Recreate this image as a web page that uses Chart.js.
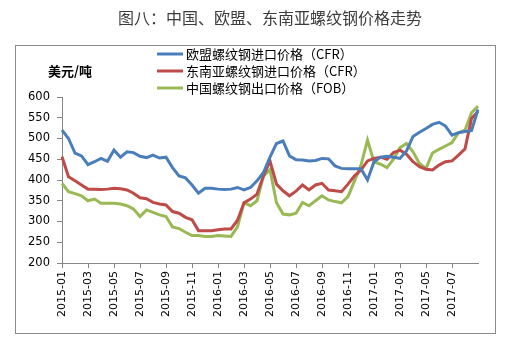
<!DOCTYPE html>
<html>
<head>
<meta charset="utf-8">
<script src="https://cdn.jsdelivr.net/npm/chart.js@4/dist/chart.umd.min.js"></script>
<style>
  body { margin: 0; background: #fff; }
</style>
</head>
<body>
<canvas id="myChart" width="509" height="343"></canvas>
<script>
// months on the axis, two readings per month
const months = ['2015-01','2015-02','2015-03','2015-04','2015-05','2015-06','2015-07','2015-08','2015-09','2015-10','2015-11','2015-12',
  '2016-01','2016-02','2016-03','2016-04','2016-05','2016-06','2016-07','2016-08','2016-09','2016-10','2016-11','2016-12',
  '2017-01','2017-02','2017-03','2017-04','2017-05','2017-06','2017-07','2017-08','2017-09'];

const euPrice = [520,500,465,458,437,444,452,445,472,455,468,466,457,454,460,453,
  455,430,410,405,388,368,380,380,378,377,378,382,376,382,398,418,
  455,488,494,458,449,448,446,447,452,451,434,428,427,427,427,400,
  444,455,457,455,452,470,505,515,524,534,539,530,508,514,517,519,570];

const seaPrice = [456,408,398,388,378,378,377,378,380,379,376,368,357,355,346,342,
  340,324,320,310,304,278,278,278,280,282,282,303,345,354,366,410,
  446,390,374,362,373,388,376,388,392,376,374,372,390,410,424,446,
  452,455,450,466,472,462,444,432,426,424,436,444,446,460,475,548,565];

const cnPrice = [392,372,367,362,350,354,344,344,344,342,338,330,312,328,322,316,
  312,287,283,274,266,266,264,264,266,265,264,287,345,338,350,410,
  425,345,318,316,320,346,338,350,362,352,348,345,360,398,436,496,
  444,438,430,450,478,488,468,440,428,465,474,482,490,514,520,562,578];

const seriesNames = ['欧盟螺纹钢进口价格（CFR）', '东南亚螺纹钢进口价格（CFR）', '中国螺纹钢出口价格（FOB）'];
const seriesColors = ['#4A7EBB', '#BE4B48', '#98B954'];

const labels = months.flatMap(m => [m, m]).slice(0, euPrice.length);
const lastTick = 60; // 2017-07 is the last labelled month

const cjk = '"Noto Sans CJK SC", sans-serif';
const axisGrey = '#868686';

// title, frame, legend and unit drawn by hand
const decor = {
  id: 'decor',
  afterDraw(chart) {
    const c = chart.ctx;
    c.save();
    c.strokeStyle = '#8a8a8a';
    c.lineWidth = 1;
    c.strokeRect(15.5, 45.5, 480, 288);

    c.fillStyle = '#3c3c3c';
    c.font = '16px ' + cjk;
    c.textAlign = 'center';
    c.textBaseline = 'middle';
    c.fillText('图八：中国、欧盟、东南亚螺纹钢价格走势', 270, 18);

    c.fillStyle = '#000';
    c.font = 'bold 13px ' + cjk;
    c.textAlign = 'left';
    c.fillText('美元/吨', 48, 71);

    chart.data.datasets.forEach((ds, i) => {
      const y = 54 + i * 17;
      c.strokeStyle = ds.borderColor;
      c.lineWidth = 3;
      c.beginPath();
      c.moveTo(157, y);
      c.lineTo(183, y);
      c.stroke();
      c.fillStyle = '#000';
      c.font = '13px ' + cjk;
      c.fillText(ds.label, 186, y);
    });
    c.restore();
  }
};

const ctx = document.getElementById('myChart');
new Chart(ctx, {
  type: 'line',
  data: {
    labels: labels,
    datasets: [euPrice, seaPrice, cnPrice].map((vals, i) => ({
      label: seriesNames[i],
      data: vals,
      borderColor: seriesColors[i],
      borderWidth: 3,
      pointRadius: 0,
      tension: 0,
      fill: false
    }))
  },
  options: {
    responsive: false,
    animation: false,
    layout: { padding: { top: 97, right: 31, bottom: 0, left: 0 } },
    plugins: {
      legend: { display: false },
      tooltip: { enabled: false }
    },
    scales: {
      x: {
        offset: false,
        border: { color: axisGrey },
        grid: {
          drawOnChartArea: false,
          tickLength: 5,
          color: c => (c.index % 4 === 0 && c.index <= lastTick ? axisGrey : 'rgba(0,0,0,0)')
        },
        ticks: {
          autoSkip: false,
          maxRotation: 90,
          minRotation: 90,
          padding: 3,
          color: '#000',
          font: { family: 'DejaVu Sans', size: 11 },
          callback: function (v, i) { return i % 4 === 0 && i <= lastTick ? this.getLabelForValue(v) : ''; }
        },
        afterFit: s => { s.height = 80; }
      },
      y: {
        min: 200,
        max: 600,
        border: { color: axisGrey },
        grid: { drawOnChartArea: false, tickLength: 5, color: axisGrey },
        ticks: {
          stepSize: 50,
          padding: 7,
          color: '#000',
          font: { family: 'DejaVu Sans', size: 11.5 }
        },
        afterFit: s => { s.width = 62; }
      }
    }
  },
  plugins: [decor]
});
</script>
</body>
</html>
